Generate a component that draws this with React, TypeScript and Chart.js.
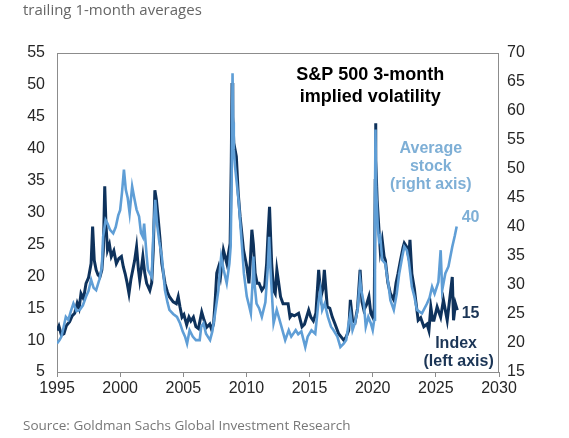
import React, { useRef, useEffect } from "react";
import Chart from "chart.js/auto";

// S&P 500 index 3-month implied vol (left axis), trailing 1-month average
const indexYears = [
  1995.0, 1995.15, 1995.35, 1995.55, 1995.75, 1996.0, 1996.2, 1996.4, 1996.6, 1996.75,
  1996.9, 1997.1, 1997.3, 1997.5, 1997.7, 1997.82, 1997.95, 1998.1, 1998.25, 1998.4,
  1998.55, 1998.67, 1998.78, 1998.88, 1999.0, 1999.15, 1999.3, 1999.5, 1999.7, 1999.9,
  2000.1, 2000.25, 2000.4, 2000.55, 2000.7, 2000.85, 2001.0, 2001.15, 2001.3, 2001.45,
  2001.55, 2001.7, 2001.8, 2001.95, 2002.1, 2002.35, 2002.5, 2002.62, 2002.75, 2002.87,
  2003.0, 2003.15, 2003.3, 2003.55, 2003.75, 2003.9, 2004.2, 2004.45, 2004.6, 2004.74,
  2004.9, 2005.05, 2005.27, 2005.45, 2005.6, 2005.8, 2006.0, 2006.2, 2006.46, 2006.65,
  2006.85, 2007.1, 2007.25, 2007.4, 2007.55, 2007.65, 2007.8, 2007.95, 2008.18, 2008.45,
  2008.71, 2008.8, 2008.86, 2008.92, 2009.0, 2009.2, 2009.35, 2009.5, 2009.77, 2010.03,
  2010.2, 2010.3, 2010.43, 2010.55, 2010.69, 2010.85, 2011.0, 2011.22, 2011.45, 2011.6,
  2011.7, 2011.83, 2011.92, 2012.0, 2012.15, 2012.28, 2012.41, 2012.55, 2012.7, 2012.9,
  2013.07, 2013.3, 2013.45, 2013.6, 2013.8, 2014.13, 2014.4, 2014.6, 2014.93, 2015.1,
  2015.3, 2015.5, 2015.72, 2015.9, 2016.05, 2016.17, 2016.4, 2016.6, 2016.8, 2017.0,
  2017.3, 2017.5, 2017.7, 2017.9, 2018.1, 2018.23, 2018.4, 2018.6, 2018.8, 2019.0,
  2019.15, 2019.3, 2019.5, 2019.7, 2019.85, 2020.0, 2020.12, 2020.2, 2020.22, 2020.26,
  2020.35, 2020.48, 2020.6, 2020.75, 2020.9, 2021.0, 2021.2, 2021.4, 2021.67, 2021.85,
  2022.0, 2022.2, 2022.4, 2022.5, 2022.7, 2022.85, 2022.95, 2023.1, 2023.3, 2023.4,
  2023.6, 2023.8, 2024.05, 2024.3, 2024.45, 2024.6, 2024.75, 2024.85, 2025.1, 2025.38,
  2025.6, 2025.9, 2026.3, 2026.4, 2026.55, 2026.7,
];
const indexVol = [
  11.5, 12.2, 10.8, 11.0, 12.3, 12.9, 13.8, 14.2, 15.8, 15.0,
  17.3, 16.5, 18.9, 19.8, 22.0, 27.8, 22.5, 21.0, 20.2, 19.9,
  21.0, 24.1, 34.1, 28.0, 24.1, 25.0, 23.1, 24.0, 22.0, 22.8,
  23.1, 21.5, 20.4, 19.0, 17.3, 19.5, 21.0, 22.5, 24.6, 21.0,
  19.4, 21.5, 23.1, 20.5, 18.9, 17.8, 19.0, 24.0, 33.5, 32.0,
  29.3, 26.0, 22.0, 18.9, 17.5, 16.8, 16.0, 15.7, 16.8, 15.2,
  13.6, 14.0, 12.4, 13.6, 13.0, 13.6, 12.1, 11.8, 14.4, 13.1,
  12.0, 12.5, 11.6, 12.6, 17.0, 20.5, 21.5, 20.0, 24.1, 22.0,
  25.2, 38.0, 50.3, 45.0, 40.9, 38.8, 33.0, 29.3, 24.1, 21.5,
  18.9, 22.0, 27.3, 25.0, 20.5, 18.9, 18.9, 17.8, 18.5, 22.0,
  26.2, 30.9, 26.0, 22.0, 17.8, 17.3, 21.0, 19.0, 16.8, 15.7,
  15.7, 15.7, 13.6, 14.0, 13.8, 14.2, 12.1, 12.5, 14.7, 13.6,
  13.0, 14.2, 21.0, 16.8, 18.0, 21.0, 15.2, 15.0, 13.6, 12.6,
  11.0, 10.5, 10.0, 10.5, 11.5, 16.3, 13.1, 12.8, 15.0, 21.0,
  16.0, 14.7, 15.5, 16.8, 14.2, 13.6, 15.0, 35.0, 44.0, 38.2,
  32.0, 27.8, 24.0, 25.7, 23.1, 22.5, 19.0, 17.3, 16.3, 19.0,
  20.4, 22.5, 24.5, 25.2, 24.6, 23.0, 25.7, 20.4, 18.0, 16.3,
  13.1, 13.5, 12.1, 12.5, 11.5, 15.2, 13.1, 13.1, 15.2, 13.6,
  16.3, 13.1, 19.9, 13.1, 15.7, 14.7,
];

// Average stock 3-month implied vol (right axis)
const stockYears = [
  1995.0, 1995.2, 1995.35, 1995.5, 1995.7, 1995.9, 1996.1, 1996.3, 1996.55, 1996.8,
  1997.05, 1997.3, 1997.5, 1997.7, 1997.9, 1998.1, 1998.35, 1998.55, 1998.65, 1998.85,
  1999.0, 1999.2, 1999.45, 1999.65, 1999.85, 2000.0, 2000.15, 2000.3, 2000.45, 2000.6,
  2000.75, 2000.95, 2001.1, 2001.3, 2001.5, 2001.65, 2001.8, 2001.9, 2002.1, 2002.2,
  2002.5, 2002.62, 2002.78, 2002.92, 2003.1, 2003.3, 2003.55, 2003.75, 2003.9, 2004.2,
  2004.5, 2004.74, 2004.95, 2005.14, 2005.3, 2005.5, 2005.75, 2006.0, 2006.3, 2006.42,
  2006.6, 2006.8, 2007.12, 2007.3, 2007.52, 2007.78, 2007.9, 2008.0, 2008.2, 2008.44,
  2008.65, 2008.75, 2008.83, 2008.9, 2008.95, 2009.0, 2009.1, 2009.4, 2009.63, 2009.8,
  2010.03, 2010.2, 2010.35, 2010.5, 2010.55, 2010.65, 2010.8, 2011.0, 2011.22, 2011.5,
  2011.7, 2011.8, 2011.9, 2012.0, 2012.15, 2012.4, 2012.7, 2013.07, 2013.35, 2013.55,
  2013.9, 2014.1, 2014.35, 2014.66, 2014.85, 2015.15, 2015.45, 2015.7, 2015.85, 2016.0,
  2016.2, 2016.45, 2016.7, 2016.9, 2017.2, 2017.44, 2017.7, 2017.9, 2018.1, 2018.23,
  2018.4, 2018.6, 2018.8, 2019.0, 2019.1, 2019.3, 2019.45, 2019.65, 2019.85, 2020.0,
  2020.12, 2020.18, 2020.22, 2020.27, 2020.4, 2020.5, 2020.6, 2020.75, 2021.0, 2021.1,
  2021.25, 2021.4, 2021.67, 2021.9, 2022.1, 2022.35, 2022.5, 2022.7, 2022.85, 2023.1,
  2023.3, 2023.5, 2023.9, 2024.3, 2024.5, 2024.7, 2024.9, 2025.2, 2025.38, 2025.5,
  2025.75, 2026.0, 2026.3, 2026.5, 2026.65,
];
const stockVol = [
  19.9, 20.5, 21.1, 22.5, 24.5, 24.0, 25.5, 26.8, 25.5, 25.7,
  26.5, 28.0, 29.0, 30.9, 29.5, 29.1, 30.9, 33.0, 38.3, 41.2,
  40.6, 39.5, 38.9, 40.0, 42.0, 42.9, 46.0, 49.9, 46.4, 45.0,
  42.4, 47.0, 45.2, 43.0, 41.8, 39.0, 38.3, 40.6, 35.0, 32.6,
  31.4, 38.3, 44.7, 40.6, 37.5, 34.9, 29.1, 27.0, 25.7, 25.0,
  24.5, 23.4, 22.0, 21.1, 19.9, 22.2, 21.1, 20.5, 20.5, 22.8,
  23.4, 21.6, 20.5, 22.0, 25.1, 29.1, 32.6, 34.9, 32.6, 30.3,
  33.7, 36.6, 48.0, 66.5, 58.0, 53.3, 50.4, 44.1, 37.2, 32.0,
  28.0, 26.5, 25.1, 30.9, 34.9, 30.0, 26.8, 26.0, 24.5, 27.0,
  33.2, 38.3, 33.0, 29.1, 23.4, 25.7, 23.4, 20.5, 22.2, 21.1,
  22.2, 21.5, 22.0, 19.3, 21.1, 22.2, 21.6, 27.0, 29.1, 25.7,
  26.8, 24.5, 22.8, 22.2, 21.1, 19.3, 19.9, 20.5, 23.4, 25.1,
  22.2, 23.5, 25.7, 30.9, 29.1, 26.8, 22.8, 24.5, 23.4, 22.2,
  24.0, 45.0, 56.8, 47.0, 40.0, 37.7, 38.3, 34.3, 33.7, 32.0,
  30.0, 27.4, 25.7, 28.5, 32.0, 35.0, 36.6, 36.0, 34.3, 29.7,
  28.0, 25.7, 25.1, 26.8, 27.8, 29.7, 28.5, 30.5, 36.0, 29.1,
  32.0, 33.2, 36.6, 38.5, 40.1,
];

const yearTicks = [1995, 2000, 2005, 2010, 2015, 2020, 2025, 2030];

const DARK = "#0e325c";
const LIGHT = "#5f9ed6";
const AXIS_FONT = { family: "'Liberation Sans', Arial, sans-serif", size: 16 };

const framePlugin = {
  id: "frame",
  beforeDatasetsDraw(chart: any) {
    const { ctx, chartArea: a } = chart;
    ctx.save();
    ctx.strokeStyle = "#8c8c8c";
    ctx.lineWidth = 1;
    ctx.strokeRect(a.left + 0.5, a.top + 0.5, a.right - a.left - 1, a.bottom - a.top);
    ctx.restore();
  },
};

const notesPlugin = {
  id: "notes",
  afterDatasetsDraw(chart: any) {
    const { ctx, scales } = chart;
    const put = (text: string, x: number, y: number, axis: string, color: string, size: number) => {
      ctx.save();
      ctx.font = `bold ${size}px 'Liberation Sans', Arial, sans-serif`;
      ctx.fillStyle = color;
      ctx.textAlign = "center";
      ctx.textBaseline = "middle";
      ctx.fillText(text, scales.x.getPixelForValue(x), scales[axis].getPixelForValue(y));
      ctx.restore();
    };
    put("S&P 500 3-month", 2019.8, 51.6, "yL", "#000000", 18);
    put("implied volatility", 2019.8, 48.1, "yL", "#000000", 18);
    put("Average", 2024.6, 53.5, "yR", "#7eafd6", 16);
    put("stock", 2024.6, 50.4, "yR", "#7eafd6", 16);
    put("(right axis)", 2024.6, 47.3, "yR", "#7eafd6", 16);
    put("40", 2027.75, 41.6, "yR", "#7eafd6", 16);
    put("15", 2027.75, 14.2, "yL", "#1b3556", 16);
    put("Index", 2026.6, 9.5, "yL", "#1b3556", 16);
    put("(left axis)", 2026.8, 6.7, "yL", "#1b3556", 16);
  },
};

const ImpliedVolChart: React.FC = () => {
  const canvasRef = useRef<HTMLCanvasElement>(null);

  useEffect(() => {
    const ctx = canvasRef.current?.getContext("2d");
    if (!ctx) {
      return;
    }
    const chart = new Chart(ctx, {
      type: "line",
      data: {
        datasets: [
          {
            label: "Average stock",
            data: stockYears.map((x, i) => ({ x, y: stockVol[i] })),
            yAxisID: "yR",
            borderColor: LIGHT,
            borderWidth: 2.6,
            pointRadius: 0,
            tension: 0,
          },
          {
            label: "Index",
            data: indexYears.map((x, i) => ({ x, y: indexVol[i] })),
            yAxisID: "yL",
            borderColor: DARK,
            borderWidth: 3,
            pointRadius: 0,
            tension: 0,
          },
        ],
      },
      options: {
        animation: false,
        responsive: false,
        layout: { padding: { top: 53, left: 0, right: 0, bottom: 0 } },
        plugins: {
          legend: { display: false },
          tooltip: { enabled: false },
        },
        scales: {
          x: {
            type: "linear",
            min: 1995,
            max: 2030,
            afterBuildTicks: (s: any) => {
              s.ticks = yearTicks.map((value) => ({ value }));
            },
            afterFit: (s: any) => {
              s.height = 66;
            },
            grid: {
              drawOnChartArea: false,
              drawTicks: true,
              tickLength: 5,
              color: "#8c8c8c",
            },
            border: { display: false },
            ticks: {
              font: AXIS_FONT,
              color: "#262626",
              padding: 2,
              maxRotation: 0,
              callback: (v: any) => String(v),
            },
          },
          yL: {
            type: "linear",
            position: "left",
            min: 5,
            max: 55,
            afterFit: (s: any) => {
              s.width = 57;
            },
            grid: { display: false, drawTicks: false },
            border: { display: false },
            ticks: { stepSize: 5, font: AXIS_FONT, color: "#262626", padding: 12 },
          },
          yR: {
            type: "linear",
            position: "right",
            min: 15,
            max: 70,
            afterFit: (s: any) => {
              s.width = 70;
            },
            grid: { display: false, drawTicks: false },
            border: { display: false },
            ticks: { stepSize: 5, font: AXIS_FONT, color: "#262626", padding: 8 },
          },
        },
      },
      plugins: [framePlugin, notesPlugin],
    });
    return () => {
      chart.destroy();
    };
  }, []);

  return <canvas ref={canvasRef} width={569} height={438}></canvas>;
};

export default function App() {
  const textFont = "'Open Sans', 'Noto Sans', sans-serif";
  return (
    <div style={{ position: "absolute", left: 0, top: 0, width: 569, height: 438, background: "#fff", overflow: "hidden" }}>
      <ImpliedVolChart />
      <div style={{ position: "absolute", left: 23, top: -1, fontFamily: textFont, fontSize: 15, lineHeight: "20px", color: "#666" }}>
        trailing 1-month averages
      </div>
      <div style={{ position: "absolute", left: 23, top: 415, fontFamily: textFont, fontSize: 13.5, lineHeight: "20px", color: "#777" }}>
        Source: Goldman Sachs Global Investment Research
      </div>
    </div>
  );
}
